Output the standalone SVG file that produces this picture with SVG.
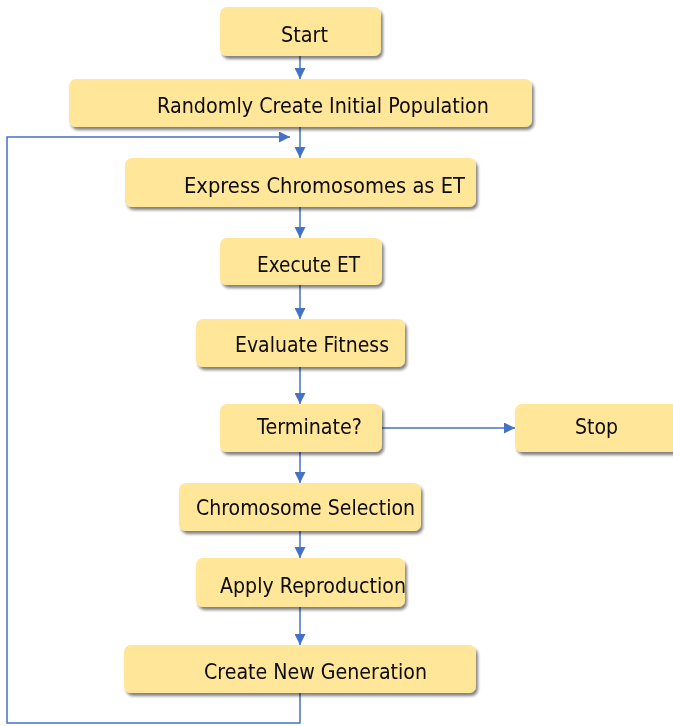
<svg xmlns="http://www.w3.org/2000/svg" width="673" height="726" viewBox="0 0 673 726">
  <style>
    .box { fill: #FFE699; }
    .lbl { font-family: "DejaVu Sans", Verdana, sans-serif; font-size: 20.5px; fill: #0a0a0a; }
    .edge { fill: none; stroke: #4472C4; stroke-width: 1.5; }
  </style>
  <defs>
    <filter id="shadow" x="-10%" y="-30%" width="120%" height="170%">
      <feGaussianBlur in="SourceAlpha" stdDeviation="1.8"/>
      <feOffset dx="1.5" dy="3" result="b"/>
      <feComponentTransfer><feFuncA type="linear" slope="0.5"/></feComponentTransfer>
      <feMerge><feMergeNode/><feMergeNode in="SourceGraphic"/></feMerge>
    </filter>
    <marker id="arrow" viewBox="0 0 10 10" refX="10" refY="5" markerWidth="11" markerHeight="11" markerUnits="userSpaceOnUse" orient="auto">
      <path d="M0,0 L10,5 L0,10 z" fill="#4472C4"/>
    </marker>
  </defs>

  <g id="connectors">
    <line class="edge" x1="300" y1="56" x2="300" y2="79" marker-end="url(#arrow)"/>
    <line class="edge" x1="300" y1="127" x2="300" y2="158" marker-end="url(#arrow)"/>
    <line class="edge" x1="300" y1="207" x2="300" y2="238" marker-end="url(#arrow)"/>
    <line class="edge" x1="300" y1="285" x2="300" y2="319" marker-end="url(#arrow)"/>
    <line class="edge" x1="300" y1="367" x2="300" y2="404" marker-end="url(#arrow)"/>
    <line class="edge" x1="382" y1="428" x2="515" y2="428" marker-end="url(#arrow)"/>
    <line class="edge" x1="300" y1="452" x2="300" y2="483" marker-end="url(#arrow)"/>
    <line class="edge" x1="300" y1="531" x2="300" y2="558" marker-end="url(#arrow)"/>
    <line class="edge" x1="300" y1="607" x2="300" y2="645" marker-end="url(#arrow)"/>
    <polyline class="edge" points="300,693 300,723 7,723 7,137 290,137" marker-end="url(#arrow)"/>
  </g>

  <g id="start" filter="url(#shadow)">
    <rect class="box" x="220" y="7" width="161" height="49" rx="7"/>
    <text class="lbl" x="281" y="42" textLength="47" lengthAdjust="spacingAndGlyphs">Start</text>
  </g>
  <g id="init-population" filter="url(#shadow)">
    <rect class="box" x="69" y="79" width="463" height="48" rx="7"/>
    <text class="lbl" x="157" y="113" textLength="332" lengthAdjust="spacingAndGlyphs">Randomly Create Initial Population</text>
  </g>
  <g id="express" filter="url(#shadow)">
    <rect class="box" x="125" y="158" width="351" height="49" rx="7"/>
    <text class="lbl" x="184" y="193" textLength="281" lengthAdjust="spacingAndGlyphs">Express Chromosomes as ET</text>
  </g>
  <g id="execute" filter="url(#shadow)">
    <rect class="box" x="220" y="238" width="162" height="47" rx="7"/>
    <text class="lbl" x="257" y="272" textLength="103" lengthAdjust="spacingAndGlyphs">Execute ET</text>
  </g>
  <g id="evaluate" filter="url(#shadow)">
    <rect class="box" x="196" y="319" width="209" height="48" rx="7"/>
    <text class="lbl" x="235" y="352" textLength="154" lengthAdjust="spacingAndGlyphs">Evaluate Fitness</text>
  </g>
  <g id="terminate" filter="url(#shadow)">
    <rect class="box" x="220" y="404" width="162" height="48" rx="7"/>
    <text class="lbl" x="257" y="434" textLength="105" lengthAdjust="spacingAndGlyphs">Terminate?</text>
  </g>
  <g id="stop" filter="url(#shadow)">
    <rect class="box" x="515" y="404" width="165" height="48" rx="7"/>
    <text class="lbl" x="575" y="434" textLength="43" lengthAdjust="spacingAndGlyphs">Stop</text>
  </g>
  <g id="selection" filter="url(#shadow)">
    <rect class="box" x="179" y="483" width="242" height="48" rx="7"/>
    <text class="lbl" x="196" y="515" textLength="219" lengthAdjust="spacingAndGlyphs">Chromosome Selection</text>
  </g>
  <g id="reproduction" filter="url(#shadow)">
    <rect class="box" x="196" y="558" width="209" height="49" rx="7"/>
    <text class="lbl" x="220" y="593" textLength="186" lengthAdjust="spacingAndGlyphs">Apply Reproduction</text>
  </g>
  <g id="new-generation" filter="url(#shadow)">
    <rect class="box" x="124" y="645" width="352" height="48" rx="7"/>
    <text class="lbl" x="204" y="679" textLength="223" lengthAdjust="spacingAndGlyphs">Create New Generation</text>
  </g>
</svg>
